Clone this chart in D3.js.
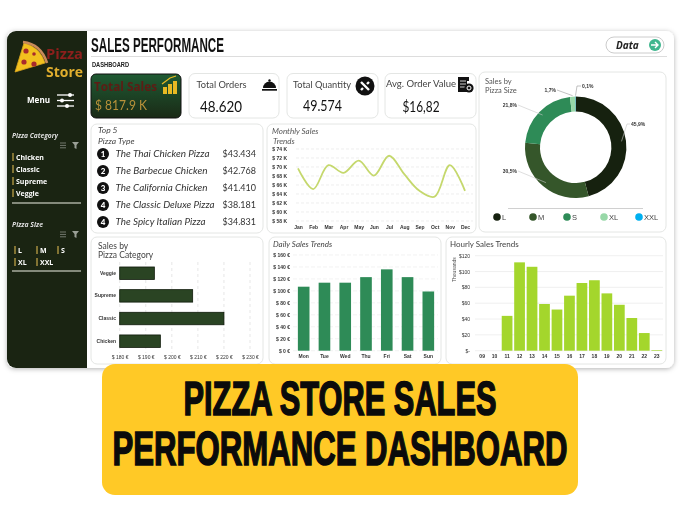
<!DOCTYPE html>
<html><head><meta charset="utf-8">
<script src="https://cdn.jsdelivr.net/npm/d3@7"></script>
<style>
html,body{margin:0;padding:0;background:#fff}
svg{display:block}
text{font-family:"Lato","Open Sans",sans-serif}
.axis path,.axis line{display:none}
.axis text{font-family:"Liberation Sans",sans-serif;fill:#333}
</style></head><body>
<svg id="c" width="680" height="510"></svg>
<script>
const kpiLabels=["Total Orders","Total Quantity","Avg. Order Value"];
const kpiValues=["48.620","49.574","$16,82"];
const topNames=["The Thai Chicken Pizza","The Barbecue Chicken","The California Chicken","The Classic Deluxe Pizza","The Spicy Italian Pizza"];
const topValues=["$43.434","$42.768","$41.410","$38.181","$34.831"];
const topRanks=["1","2","3","4","4"];
const months=["Jan","Feb","Mar","Apr","May","Jun","Jul","Aug","Sep","Oct","Nov","Dec"];
const monthlySales=[69.7,65.1,70.4,68.7,71.4,68.1,72.5,68.4,64.7,63.4,70.4,64.7];
const sizes=["L","M","S","XL","XXL"];
const sizeShares=[45.9,30.5,21.8,1.7,0.1];
const sizeLabels=["45,9%","30,5%","21,8%","1,7%","0,1%"];
const sizeColors=["#16210f","#35562a","#2e8b57","#98d8a8","#00b0f0"];
const categories=["Veggie","Supreme","Classic","Chicken"];
const categorySales=[193.3,208,220,195.6];
const days=["Mon","Tue","Wed","Thu","Fri","Sat","Sun"];
const dailySales=[107,113.7,113.7,123,136,123,99];
const hours=["09","10","11","12","13","14","15","16","17","18","19","20","21","22","23"];
const hourlySales=[0,0,44,111.6,106,59,52,69.5,85.5,89,72.4,58,41.3,22.3,0.8];
const sideCategories=["Chicken","Classic","Supreme","Veggie"];

const outer=d3.select("#c");
const defs=outer.append("defs");
const sh=defs.append("filter").attr("id","sh").attr("x","-5%").attr("y","-5%").attr("width","110%").attr("height","110%");
sh.append("feDropShadow").attr("dx",0).attr("dy",1).attr("stdDeviation",2.5).attr("flood-color","#000").attr("flood-opacity",.3);
const gr=defs.append("linearGradient").attr("id","gs").attr("x1",0).attr("y1",0).attr("x2",0).attr("y2",1);
gr.append("stop").attr("offset","0").attr("stop-color","#1f5a33");
gr.append("stop").attr("offset","1").attr("stop-color","#1a2a16");
let svg=outer.append("g").style("filter","blur(0.35px)");

const T=(x,y,s,size,o={})=>{const t=svg.append("text").attr("x",x).attr("y",y).text(s).attr("font-size",size)
 .attr("fill",o.fill||"#333").attr("font-style",o.italic?"italic":null).attr("font-weight",o.weight||null)
 .attr("text-anchor",o.anchor||null);if(o.family)t.style("font-family",o.family);if(o.ls)t.style("letter-spacing",o.ls+"px");if(o.len)t.attr("textLength",o.len).attr("lengthAdjust","spacingAndGlyphs");return t;};
const card=(x0,y0,x1,y1,r=6)=>svg.append("rect").attr("x",x0).attr("y",y0).attr("width",x1-x0).attr("height",y1-y0).attr("rx",r)
 .attr("fill","#fff").attr("stroke","#e4e6e4").attr("stroke-width",1);
const NAR='"Liberation Sans Narrow","Liberation Sans",sans-serif';
const OS='"Open Sans",sans-serif';

// frame
svg.append("rect").attr("x",7).attr("y",31).attr("width",667).attr("height",337).attr("rx",8).attr("fill","#fff").attr("filter","url(#sh)");
svg.append("rect").attr("x",7).attr("y",31).attr("width",80).attr("height",337).attr("rx",9).attr("fill","#1a2412");
svg.append("rect").attr("x",60).attr("y",31).attr("width",27).attr("height",337).attr("fill","#1a2412");

// logo
const lg=svg.append("g");
lg.append("path").attr("d","M15 72 L24 43 Q40 47 45 63 Z").attr("fill","#f2c01e").attr("stroke","#d9a520").attr("stroke-width",.8);
lg.append("path").attr("d","M23 42 Q41 44 47 63").attr("fill","none").attr("stroke","#c98a5a").attr("stroke-width",2.6);
[[26,51],[24,62],[34,64],[34,54]].forEach((p,i)=>lg.append("circle").attr("cx",p[0]).attr("cy",p[1]).attr("r",i==3?1.8:2.6).attr("fill","#a82a2c"));
T(46,59,"Pizza",14,{fill:"#8c1f1c",weight:700,family:OS,len:37});
T(46,77,"Store",14,{fill:"#e0ae2e",weight:700,family:OS,len:37});

// menu
T(27,103,"Menu",8.5,{fill:"#fff",weight:700,family:OS,len:23});
[[95,70],[100.5,62],[106,67]].forEach(d=>{
 svg.append("line").attr("x1",57).attr("x2",74).attr("y1",d[0]).attr("y2",d[0]).attr("stroke","#fff").attr("stroke-width",1.3);
 svg.append("circle").attr("cx",d[1]).attr("cy",d[0]).attr("r",2).attr("fill","#fff");
});

// slicers
T(12,138,"Pizza Category",6.4,{fill:"#ddd",italic:true,weight:700,family:OS,len:46});
T(12,227,"Pizza Size",6.4,{fill:"#ddd",italic:true,weight:700,family:OS,len:31});
const filtIcon=(x,y)=>{
 [0,2.4,4.8].forEach(d=>svg.append("line").attr("x1",x).attr("x2",x+6).attr("y1",y+d).attr("y2",y+d).attr("stroke","#8a8f86").attr("stroke-width",.8));
 svg.append("path").attr("d",`M${x+12} ${y-1}h7l-2.5 3v4l-2-1v-3z`).attr("fill","#9aa096");
};
filtIcon(60,143);filtIcon(60,232);
const pill=(x,y,s)=>{
 svg.append("line").attr("x1",x).attr("x2",x).attr("y1",y-7).attr("y2",y+1).attr("stroke","#c9a94a").attr("stroke-width",1.2);
 T(x+3,y,s,7,{fill:"#fff",weight:700,family:OS});
};
sideCategories.forEach((s,i)=>pill(13,160+i*12,s));
sizes.slice(0,3).forEach((s,i)=>pill([15,37,58][i],253,s));
sizes.slice(3).forEach((s,i)=>pill([15,37][i],265,s));
[203,271].forEach(y=>svg.append("line").attr("x1",12).attr("x2",81).attr("y1",y).attr("y2",y).attr("stroke","#a8ad9f").attr("stroke-width",1.5));

// header
T(91,52,"SALES PERFORMANCE",20,{fill:"#111",weight:700,family:NAR,len:133});
svg.append("line").attr("x1",91).attr("x2",667).attr("y1",56.5).attr("y2",56.5).attr("stroke","#ddd");
T(92,67,"DASHBOARD",8,{fill:"#222",weight:700,family:NAR,len:37});
svg.append("rect").attr("x",606).attr("y",37).attr("width",58).attr("height",16).attr("rx",8).attr("fill","#fff").attr("stroke","#ccc");
T(616,48.5,"Data",10,{fill:"#222",italic:true,weight:700,family:OS});
svg.append("circle").attr("cx",655).attr("cy",45).attr("r",6).attr("fill","#3fb68e");
svg.append("path").attr("d","M651 45h7m-3 -3l3 3l-3 3").attr("stroke","#fff").attr("fill","none").attr("stroke-width",1.4);

// KPI
svg.append("rect").attr("x",91).attr("y",74).attr("width",90).attr("height",44).attr("rx",5).attr("fill","url(#gs)").attr("stroke","#111");
T(94,91,"Total Sales",13,{fill:"#5e1c14",weight:700,family:OS,len:63});
T(95,110,"$ 817.9 K",13,{fill:"#b9923a",len:52});
[[163,87,4,7],[168,84,4,10],[173,81,4,13]].forEach(b=>svg.append("rect").attr("x",b[0]).attr("y",b[1]).attr("width",b[2]).attr("height",b[3]).attr("fill","#e8b923"));
svg.append("path").attr("d","M162 84L170 78L176 76").attr("stroke","#e8b923").attr("fill","none").attr("stroke-width",1.3);

[[189,279],[287,378],[385,476]].forEach(c=>card(c[0],73.5,c[1],118));
[[196.5,88,50,200,112,42],[293,88,58,303,111,39],[386,87,70,402.5,112,37]].forEach((p,i)=>{
 T(p[0],p[1],kpiLabels[i],9.5,{fill:"#444",len:p[2]});
 T(p[3],p[4],kpiValues[i],15,{fill:"#111",len:p[5]});
});
// bell
svg.append("path").attr("d","M263 88a6.5 6.5 0 0 1 13 0z").attr("fill","#111");
svg.append("circle").attr("cx",269.5).attr("cy",80.5).attr("r",1.2).attr("fill","#111");
svg.append("rect").attr("x",262).attr("y",89).attr("width",15).attr("height",1.7).attr("fill","#111");
// qty
svg.append("circle").attr("cx",365).attr("cy",86).attr("r",9.5).attr("fill","#111");
svg.append("path").attr("d","M361 82l8 8M369 82l-2 2M361 90l2-2").attr("stroke","#fff").attr("stroke-width",2.4);
// avg icon
svg.append("path").attr("d","M458 77h11v4h-2v11h-9z").attr("fill","#111");
[81,84,87].forEach(y=>svg.append("line").attr("x1",460).attr("x2",466).attr("y1",y).attr("y2",y).attr("stroke","#fff").attr("stroke-width",.8));
svg.append("circle").attr("cx",469).attr("cy",88).attr("r",4.6).attr("fill","#111");
svg.append("circle").attr("cx",469).attr("cy",88).attr("r",2).attr("fill","none").attr("stroke","#fff").attr("stroke-width",1);

// top 5
card(91,124,263,233);
T(98,133,"Top 5",8.5,{fill:"#444",italic:true});
T(98,144,"Pizza Type",8.5,{fill:"#444",italic:true});
const nameLens=[94,92,92,99,90];
topNames.forEach((n,i)=>{
 const y=154+i*17;
 svg.append("circle").attr("cx",103).attr("cy",y).attr("r",6).attr("fill","#111");
 T(103,y+3,topRanks[i],8,{fill:"#fff",anchor:"middle",weight:900});
 T(115.5,y+3,n,9.5,{fill:"#333",italic:true,len:nameLens[i]});
 T(256,y+3,topValues[i],9,{fill:"#333",anchor:"end"});
});

// monthly
card(267,124,476,233);
T(272,134,"Monthly Sales",8,{fill:"#555",italic:true});
T(273,144,"Trends",8,{fill:"#555",italic:true});
const mx=d3.scalePoint().domain(months).range([298,465]);
const my=d3.scaleLinear().domain([58,74]).range([221,149]);
const mTicks=d3.range(58,75,2);
svg.append("g").selectAll("line").data(mTicks).join("line").attr("x1",296).attr("x2",473)
 .attr("y1",d=>my(d)).attr("y2",d=>my(d)).attr("stroke","#e6e6e6").attr("stroke-width",.7).attr("stroke-dasharray","3 2");
svg.append("g").attr("class","axis").attr("transform","translate(287,0)")
 .call(d3.axisLeft(my).tickValues(mTicks).tickSize(0).tickPadding(0).tickFormat(d=>`$ ${d} K`))
 .selectAll("text").attr("font-size",5).attr("font-weight",700);
svg.append("g").attr("class","axis").attr("transform","translate(0,225)")
 .call(d3.axisBottom(mx).tickSize(0).tickPadding(0))
 .selectAll("text").attr("font-size",5).attr("font-weight",700);
svg.append("path").datum(monthlySales).attr("fill","none").attr("stroke","#c5d86d").attr("stroke-width",1.8)
 .attr("d",d3.line().x((d,i)=>mx(months[i])).y(d=>my(d)).curve(d3.curveCatmullRom.alpha(.5)));

// donut
card(479,72,666,232);
T(485,84,"Sales by",7.5,{fill:"#555"});
T(485,93,"Pizza Size",7.5,{fill:"#555"});
const cx=575.7,cy=147.3,ro=50.7,ri=35.7;
const arc=d3.arc().innerRadius(ri).outerRadius(ro);
const pie=d3.pie().sort(null)(sizeShares);
svg.append("g").attr("transform",`translate(${cx},${cy})`).selectAll("path").data(pie).join("path")
 .attr("d",arc).attr("fill",(d,i)=>sizeColors[i]);
const labelAt=[[631,126,"start",627],[517,173,"end",518],[517,107,"end",518],[556,92,"end",557],[582,88,"start",577]];
pie.forEach((d,i)=>{
 const a=(d.startAngle+d.endAngle)/2;
 const rr=(ri+ro)/2+(i==3||i==4?ro/2:3);
 const px=cx+Math.sin(a)*Math.min(rr,ro+1),py=cy-Math.cos(a)*Math.min(rr,ro+1);
 const [lx,ly,an,ex]=labelAt[i];
 const ly2=ly-2;
 svg.append("polyline").attr("points",`${px},${py} ${ex},${ly2} ${an=="end"?lx+1:lx-1},${ly2}`)
  .attr("fill","none").attr("stroke",i<3?"#c8c8c8":"#999").attr("stroke-width",.6);
 T(lx,ly,sizeLabels[i],5,{fill:"#333",anchor:an,family:'"Liberation Sans",sans-serif',weight:700});
});
svg.append("line").attr("x1",508).attr("x2",643).attr("y1",208.5).attr("y2",208.5).attr("stroke","#d0d0d0");
[497,533,567,604,639].forEach((x,i)=>{
 svg.append("circle").attr("cx",x).attr("cy",217).attr("r",3.8).attr("fill",sizeColors[i]);
 T(x+5,220,sizes[i],7.5,{fill:"#444",family:'"Liberation Sans",sans-serif'});
});

// category
card(91,237,263,364);
T(98,249,"Sales by",8.5,{fill:"#444"});
T(98,258,"Pizza Category",8.5,{fill:"#444"});
const cxS=d3.scaleLinear().domain([180,230]).range([119.7,250]);
const cyS=d3.scaleBand().domain(categories).range([262,352.4]).paddingInner(.45).paddingOuter(.22);
const cTicks=d3.range(180,231,10);
svg.append("g").selectAll("line").data(cTicks).join("line").attr("x1",d=>cxS(d)).attr("x2",d=>cxS(d)).attr("y1",262).attr("y2",353)
 .attr("stroke","#ddd").attr("stroke-width",.7).attr("stroke-dasharray","3 3");
svg.append("g").selectAll("rect").data(categorySales).join("rect")
 .attr("x",cxS(180)).attr("y",(d,i)=>cyS(categories[i])).attr("width",d=>cxS(d)-cxS(180)).attr("height",cyS.bandwidth())
 .attr("fill","#2a4423").attr("stroke","#0f1a0a").attr("stroke-width",.8);
svg.append("g").attr("class","axis").attr("transform","translate(116,0)")
 .call(d3.axisLeft(cyS).tickSize(0).tickPadding(0)).selectAll("text").attr("font-size",5).attr("font-weight",700);
svg.append("g").attr("class","axis").attr("transform","translate(0,355)")
 .call(d3.axisBottom(cxS).tickValues(cTicks).tickSize(0).tickPadding(0).tickFormat(d=>`$ ${d} €`)).selectAll("text").attr("font-size",5);

// daily
card(269,237,441,364);
T(273,247,"Daily Sales Trends",8,{fill:"#444",italic:true});
const dx=d3.scaleBand().domain(days).range([293.3,438.7]).paddingInner(.44).paddingOuter(.22);
const dy=d3.scaleLinear().domain([0,160]).range([350.7,255]);
const dTicks=d3.range(0,161,20);
svg.append("g").selectAll("line").data(dTicks).join("line").attr("x1",293).attr("x2",438).attr("y1",d=>dy(d)).attr("y2",d=>dy(d))
 .attr("stroke","#ececec").attr("stroke-width",.7).attr("stroke-dasharray","4 2");
svg.append("g").selectAll("rect").data(dailySales).join("rect").attr("x",(d,i)=>dx(days[i])).attr("width",dx.bandwidth())
 .attr("y",d=>dy(d)).attr("height",d=>dy(0)-dy(d)).attr("fill","#2e8b57");
svg.append("g").attr("class","axis").attr("transform","translate(290,0)")
 .call(d3.axisLeft(dy).tickValues(dTicks).tickSize(0).tickPadding(0).tickFormat(d=>`$ ${d} €`)).selectAll("text").attr("font-size",5).attr("font-weight",700);
svg.append("g").attr("class","axis").attr("transform","translate(0,354.5)")
 .call(d3.axisBottom(dx).tickSize(0).tickPadding(0)).selectAll("text").attr("font-size",5).attr("font-weight",700);

// hourly
card(446,237,666,364);
T(450,247,"Hourly Sales Trends",8,{fill:"#444"});
const hx=d3.scaleBand().domain(hours).range([475.9,663]).paddingInner(.14).paddingOuter(.07);
const hy=d3.scaleLinear().domain([0,120]).range([350.7,255.7]);
const hTicks=d3.range(0,121,20);
svg.append("g").selectAll("line").data(hTicks).join("line").attr("x1",475).attr("x2",663).attr("y1",d=>hy(d)).attr("y2",d=>hy(d))
 .attr("stroke","#e9e9e9").attr("stroke-width",.7);
svg.append("g").selectAll("rect").data(hourlySales).join("rect").attr("x",(d,i)=>hx(hours[i])).attr("width",hx.bandwidth())
 .attr("y",d=>hy(d)).attr("height",d=>hy(0)-hy(d)).attr("fill","#a4d62c");
svg.append("g").attr("class","axis").attr("transform","translate(470,0)")
 .call(d3.axisLeft(hy).tickValues(hTicks).tickSize(0).tickPadding(0).tickFormat(d=>d==0?"$-":`$${d}`)).selectAll("text").attr("font-size",5);
svg.append("g").attr("class","axis").attr("transform","translate(0,354.5)")
 .call(d3.axisBottom(hx).tickSize(0).tickPadding(0)).selectAll("text").attr("font-size",5).attr("font-weight",700);
svg.append("text").attr("transform","translate(455.5,282) rotate(-90)").text("Thousands").attr("font-size",5).attr("fill","#555").style("font-family",'"Liberation Sans",sans-serif');

// banner
svg=outer.append("g");
svg.append("rect").attr("x",102).attr("y",364).attr("width",476).attr("height",131).attr("rx",13).attr("fill","#ffc926");
const bn=(y,s,w)=>{
 const t=svg.append("text").text(s).attr("font-size",49).attr("font-weight",700).attr("fill","#0b0b0b").attr("text-anchor","middle")
  .attr("stroke","#0b0b0b").attr("stroke-width",1.6).style("font-family",NAR);
 const k=w/t.node().getComputedTextLength();
 t.attr("transform",`translate(340,${y}) scale(${k},1)`);
};
bn(414.5,"PIZZA STORE SALES",313);
bn(464.5,"PERFORMANCE DASHBOARD",455);
</script></body></html>
